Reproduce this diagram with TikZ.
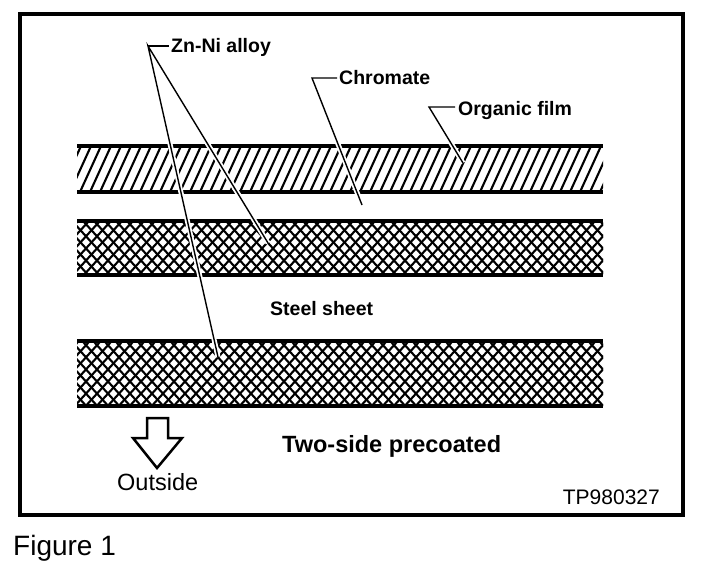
\documentclass[tikz,border=0pt]{standalone}
\usepackage{fontspec}
\setmainfont{Liberation Sans}
\begin{document}
\begin{tikzpicture}[x=1pt,y=-1pt,
  lbl/.style={inner sep=0pt,anchor=base west,font=\fontsize{19.5}{22}\selectfont\bfseries},
  layerline/.style={line width=3.5pt},
  hatchline/.style={line width=2.1pt},
  leader/.style={line width=1.4pt},
  halo/.style={draw=white,line width=5pt},
  ]
\useasboundingbox (0,0) rectangle (704,588);
% frame
\draw[line width=4pt] (20,14) rectangle (683,515);

% organic film hatch
\begin{scope}
\clip (77,146) rectangle (603,192);
\foreach \x in {40,50,...,620} \draw[hatchline] (\x,192) -- ++(21,-46);
\end{scope}
% Zn-Ni crosshatch (upper and lower)
\begin{scope}
\clip (77,221) rectangle (603,275) (77,341) rectangle (603,406);
\foreach \x in {-400,-389,...,700} {
  \draw[hatchline] (\x,420) -- ++(400,-440);
  \draw[hatchline] (\x+400,420) -- ++(-400,-440);
}
\end{scope}
% layer lines
\foreach \y in {146,192,221,275,341,406}
  \draw[layerline] (77,\y) -- (603,\y);

% labels
\node[lbl] (zn) at (171,53) {Zn-Ni alloy};
\node[lbl] (chr) at (339,85) {Chromate};
\node[lbl] (org) at (458,116) {Organic film};
\node[lbl] (steel) at (270,315) {Steel sheet};
\node[inner sep=0pt,anchor=base west,font=\fontsize{23.5}{26}\selectfont\bfseries] (two) at (282,452) {Two-side precoated};
\node[inner sep=0pt,anchor=base west,font=\fontsize{23.5}{26}\selectfont] (out) at (117,490) {Outside};
\node[inner sep=0pt,anchor=base east,font=\fontsize{21}{24}\selectfont] (tp) at (660,504) {TP980327};
\node[inner sep=0pt,anchor=base west,font=\fontsize{28}{32}\selectfont] (fig) at (13,555) {Figure 1};

% leader coordinates
\coordinate (znA) at (148,46);
\coordinate (znE1) at (268,243);
\coordinate (znE2) at (218,357);
\coordinate (chA) at (312,78);
\coordinate (chE) at (362,205);
\coordinate (orA) at (429,107);
\coordinate (orE) at (463,163);

% halos
\draw[halo] (znA) -- (znE1);
\draw[halo] (znA) -- (znE2);
\draw[halo] (chA) -- (chE);
\draw[halo] (orA) -- (orE);
% leaders
\draw[leader,line join=miter] (znE1) -- (znA) -- (znE2);
\draw[leader] (znA) -- ([xshift=-2pt]zn.west |- znA);
\draw[leader,line join=miter] (chE) -- (chA) -- ([xshift=-2pt]chr.west |- chA);
\draw[leader,line join=miter] (orE) -- (orA) -- ([xshift=-3pt]org.west |- orA);

% outline arrow
\draw[line width=2.5pt,line join=miter] (147,418) -- (168,418) -- (168,438) -- (182,438) -- (157,468) -- (133,438) -- (147,438) -- cycle;
\end{tikzpicture}
\end{document}
